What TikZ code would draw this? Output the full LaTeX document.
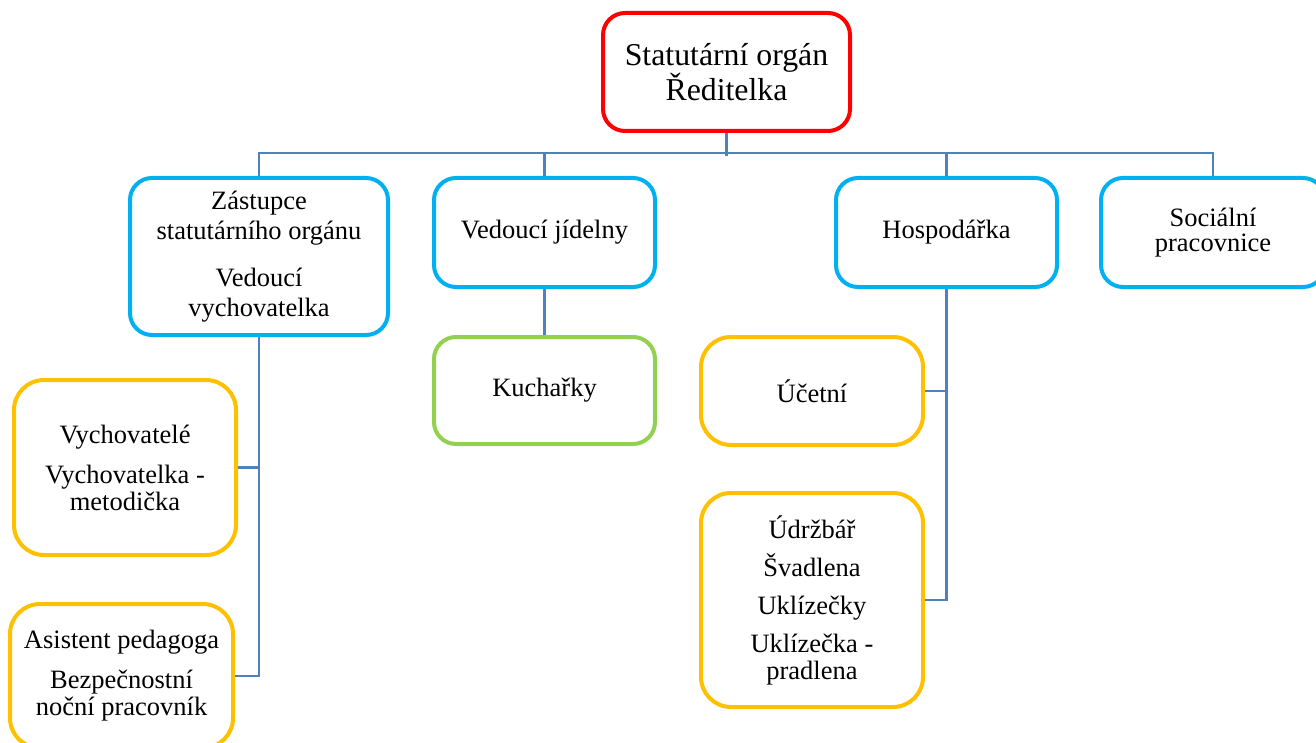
\documentclass[tikz,border=0pt]{standalone}
\usepackage{fontspec}
\setmainfont{Liberation Serif}
\definecolor{cred}{HTML}{FF0000}
\definecolor{cblue}{HTML}{00B0F0}
\definecolor{corange}{HTML}{FFC000}
\definecolor{cgreen}{HTML}{92D050}
\definecolor{cline}{RGB}{79,129,189}
\tikzset{
  box/.style={draw, line width=4pt, fill=white, align=center, inner sep=0pt,
    rounded corners=22pt, font=\fontsize{26.5}{27}\selectfont},
  redbox/.style={box, draw=cred, font=\fontsize{31.8}{33}\selectfont},
  bluebox/.style={box, draw=cblue},
  orangebox/.style={box, draw=corange, rounded corners=30pt},
  greenbox/.style={box, draw=cgreen},
  conn/.style={draw=cline, line width=2.8pt}
}
\begin{document}
\begin{tikzpicture}[x=1pt,y=-1pt]
\useasboundingbox[fill=white] (0,0) rectangle (1316,743);
\node[redbox, minimum width=247pt, minimum height=118pt] (top) at (726.5,72) {Statutární orgán\\Ředitelka};
\node[bluebox, minimum width=258pt, minimum height=157pt, font=\fontsize{26.5}{30}\selectfont] (b1) at (259,256.5)
  {Zástupce\\statutárního orgánu\\[17pt]Vedoucí\\vychovatelka};
\node[bluebox, minimum width=221pt, minimum height=109pt] (b2) at (544.5,232.5) {Vedoucí jídelny};
\node[bluebox, minimum width=221pt, minimum height=109pt] (b3) at (946.5,232.5) {Hospodářka};
\node[bluebox, minimum width=224pt, minimum height=109pt, font=\fontsize{26.5}{25}\selectfont] (b4) at (1213,232.5) {Sociální\\pracovnice};
\node[orangebox, minimum width=222pt, minimum height=175pt] (vych) at (125,467.5)
  {Vychovatelé\\[13pt]Vychovatelka -\\metodička};
\node[orangebox, minimum width=223pt, minimum height=144pt] (asist) at (121.5,676)
  {Asistent pedagoga\\[13pt]Bezpečnostní\\noční pracovník};
\node[greenbox, minimum width=221pt, minimum height=107pt] (kuch) at (544.5,390.5) {Kuchařky};
\node[orangebox, minimum width=222pt, minimum height=108pt] (ucet) at (812,391) {Účetní};
\node[orangebox, minimum width=222pt, minimum height=214pt] (udrz) at (812,600)
  {Údržbář\\[11pt]Švadlena\\[11pt]Uklízečky\\[11pt]Uklízečka -\\pradlena};
% connectors
\draw[conn] (top.south) -- ++(0,23);
\draw[conn] (b1.north) -- ++(0,-23) -| (b4.north);
\draw[conn] (b2.north) -- ++(0,-23);
\draw[conn] (b3.north) -- ++(0,-23);
\draw[conn] (b1.south) |- (asist.east);
\draw[conn] (vych.east) -- (vych.east -| b1.south);
\draw[conn] (b2.south) -- (kuch.north);
\draw[conn] (b3.south) |- (udrz.east);
\draw[conn] (ucet.east) -- (ucet.east -| b3.south);
\end{tikzpicture}
\end{document}
